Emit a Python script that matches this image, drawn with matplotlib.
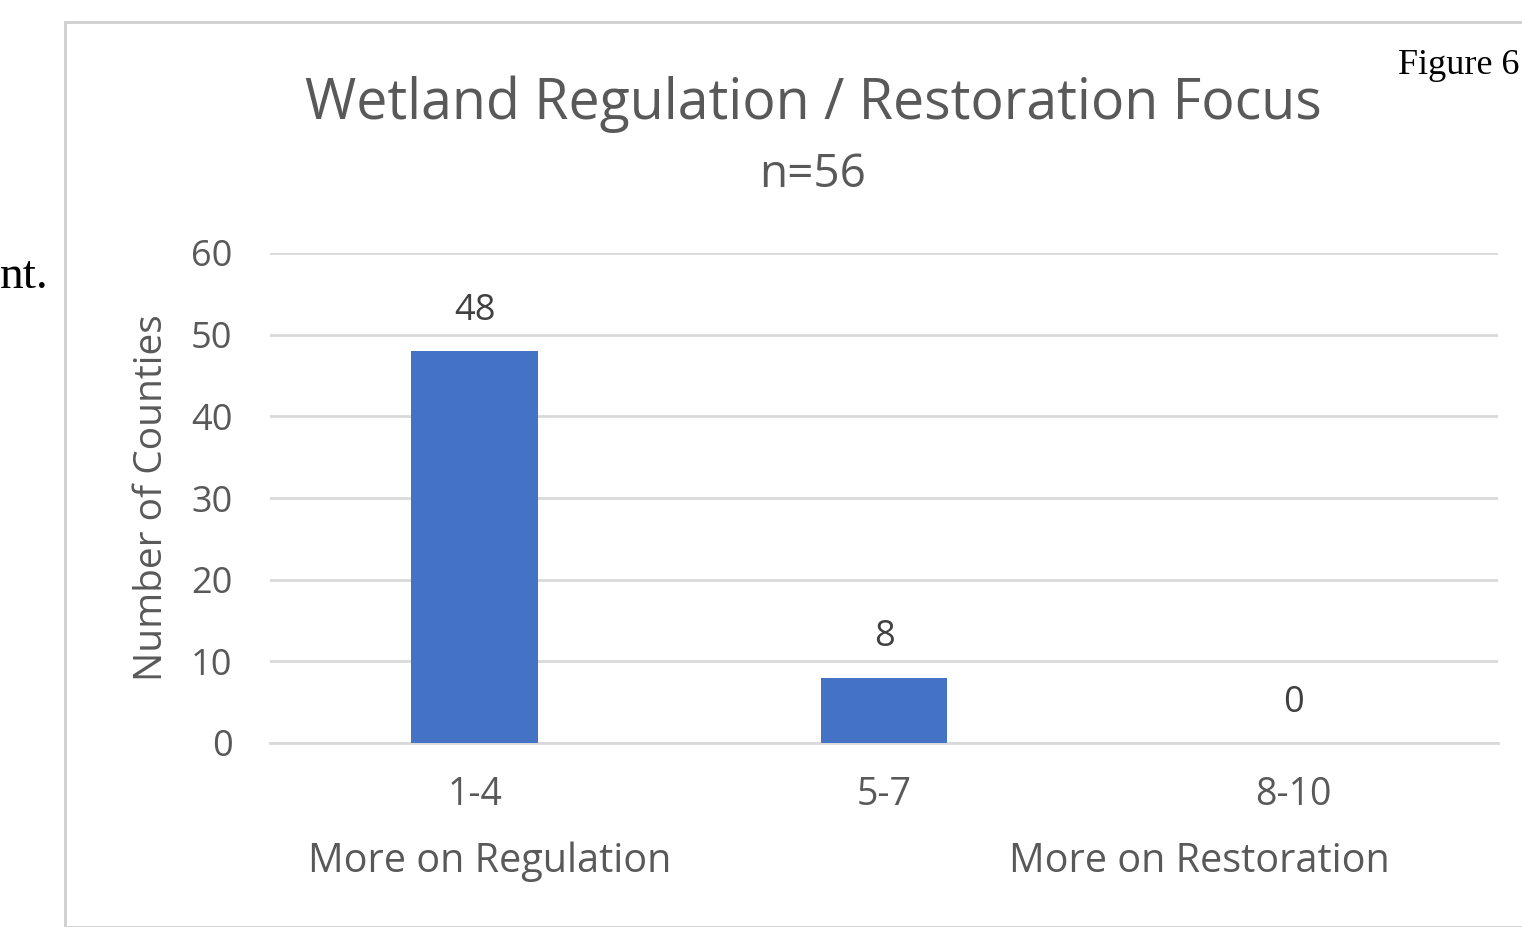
import matplotlib
matplotlib.use("Agg")
import matplotlib.pyplot as plt
from matplotlib.patches import Rectangle

categories = ["1-4", "5-7", "8-10"]
counts = [48, 8, 0]
yticks = [0, 10, 20, 30, 40, 50, 60]
title = "Wetland Regulation / Restoration Focus"
subtitle = "n=56"
ylabel = "Number of Counties"
left_note = "More on Regulation"
right_note = "More on Restoration"

W, H = 1522, 927
fig = plt.figure(figsize=(W / 100, H / 100), dpi=100)
fig.patch.set_facecolor("white")

FONT = "Open Sans"
GREY = "#595959"
DARK = "#404040"
GRID = "#d9d9d9"
BAR = "#4472C4"

def fx(px):
    return px / W

def fy(py):
    return 1 - py / H

# chart frame
fig.add_artist(Rectangle((fx(65), fy(927)), fx(W - 65) + 0.01, fy(22) - fy(927),
                         transform=fig.transFigure, fill=False,
                         edgecolor="#cfcfcf", linewidth=2))

# surrounding document text
fig.text(fx(0), fy(277), "nt.", family="Liberation Serif", fontsize=34,
         color="black", ha="left", va="center")
fig.text(fx(1519), fy(65), "Figure 6", family="Liberation Serif", fontsize=26,
         color="black", ha="right", va="center")

ax = fig.add_axes([fx(270), fy(743), fx(1498) - fx(270), fy(253) - fy(743)])
x = list(range(len(categories)))
bars = ax.bar(x, counts, width=0.31, color=BAR, zorder=3)
ax.set_xlim(-0.5, len(categories) - 0.5)
ax.set_ylim(0, 60)
ax.set_yticks(yticks)
ax.set_yticklabels([str(t) for t in yticks], family=FONT, fontsize=26, color=GREY)
ax.set_xticks(x)
ax.set_xticklabels(categories, family=FONT, fontsize=27, color=GREY)
ax.tick_params(axis="both", length=0)
ax.tick_params(axis="y", pad=27)
ax.tick_params(axis="x", pad=24)
ax.grid(axis="y", color=GRID, linewidth=2, zorder=0)
ax.set_axisbelow(True)
for s in ["top", "right", "left"]:
    ax.spines[s].set_visible(False)
ax.spines["bottom"].set_color(GRID)
ax.spines["bottom"].set_linewidth(2)
ax.set_facecolor("none")

for xi, v in zip(x, counts):
    ax.annotate(str(v), (xi, v), xytext=(0, 29), textcoords="offset points",
                ha="center", va="center", family=FONT, fontsize=26, color=DARK)

fig.text(fx(152), fy(498), ylabel, rotation=90, family=FONT, fontsize=28,
         color=GREY, ha="center", va="center")
fig.text(fx(813), fy(104), title, family=FONT, fontsize=40, color=GREY,
         ha="center", va="center")
fig.text(fx(813), fy(175), subtitle, family=FONT, fontsize=33, color=GREY,
         ha="center", va="center")
fig.text(fx(490), fy(862), left_note, family=FONT, fontsize=28.5, color=GREY,
         ha="center", va="center")
fig.text(fx(1199), fy(862), right_note, family=FONT, fontsize=28.5, color=GREY,
         ha="center", va="center")

fig.savefig("out.png", dpi=100)
